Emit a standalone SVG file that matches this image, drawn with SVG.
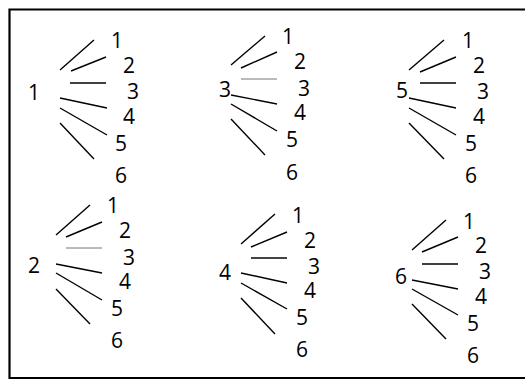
<svg xmlns="http://www.w3.org/2000/svg" width="525" height="380" viewBox="0 0 525 380">
<style>
text{font-family:"Open Sans","Liberation Sans",sans-serif;font-size:21px;fill:#000;text-anchor:middle}
.c line{stroke:#000;stroke-width:1.4;stroke-linecap:butt}
.c line.thin{stroke:#777;stroke-width:1}
.c line.gr{stroke:#444;stroke-width:1.8}
</style>
<rect width="525" height="380" fill="#fff"/>
<path d="M526 9.5H9.5V378H526" fill="none" stroke="#000" stroke-width="2.2"/>
<g id="node-1"><text x="34" y="100">1</text><text x="117" y="48">1</text><text x="129" y="73">2</text><text x="133" y="99">3</text><text x="129" y="124">4</text><text x="121" y="151">5</text><text x="121" y="183">6</text></g>
<g id="node-3"><text x="225" y="97">3</text><text x="288" y="44">1</text><text x="300" y="69">2</text><text x="304" y="96">3</text><text x="300" y="120">4</text><text x="292" y="147">5</text><text x="292" y="180">6</text></g>
<g id="node-5"><text x="402" y="98">5</text><text x="468" y="48">1</text><text x="479" y="73">2</text><text x="483" y="99">3</text><text x="479" y="124">4</text><text x="471" y="151">5</text><text x="471" y="183">6</text></g>
<g id="node-2"><text x="34" y="273">2</text><text x="113" y="213">1</text><text x="125" y="238">2</text><text x="129" y="265">3</text><text x="125" y="289">4</text><text x="117" y="316">5</text><text x="117" y="348">6</text></g>
<g id="node-4"><text x="225" y="280">4</text><text x="298" y="223">1</text><text x="310" y="248">2</text><text x="314" y="274">3</text><text x="310" y="298">4</text><text x="302" y="325">5</text><text x="302" y="357">6</text></g>
<g id="node-6"><text x="401" y="284">6</text><text x="469" y="229">1</text><text x="481" y="253">2</text><text x="485" y="279">3</text><text x="481" y="304">4</text><text x="473" y="331">5</text><text x="473" y="363">6</text></g>
<g id="connectors" class="c">
<line x1="60" y1="70" x2="94" y2="40"/><line x1="71" y1="71" x2="106" y2="57"/><line x1="70" y1="83" x2="106" y2="83"/><line x1="60" y1="98" x2="107" y2="108"/><line x1="60" y1="108" x2="107" y2="135"/><line x1="60" y1="123" x2="94" y2="159"/>
<line x1="231" y1="65" x2="265" y2="36"/><line x1="241" y1="68" x2="277" y2="52"/><line class="thin" x1="241" y1="79" x2="277" y2="79"/><line x1="231" y1="95" x2="277" y2="104"/><line x1="231" y1="104" x2="277" y2="131"/><line x1="231" y1="119" x2="265" y2="155"/>
<line x1="409" y1="70" x2="444" y2="40"/><line x1="420" y1="72" x2="456" y2="57"/><line x1="420" y1="83" x2="456" y2="83"/><line x1="409" y1="98" x2="456" y2="108"/><line x1="409" y1="108" x2="456" y2="135"/><line x1="409" y1="123" x2="444" y2="159"/>
<line x1="56" y1="235" x2="90" y2="205"/><line x1="66" y1="237" x2="102" y2="222"/><line class="thin" x1="66" y1="248" x2="102" y2="248"/><line x1="56" y1="264" x2="102" y2="273"/><line x1="56" y1="273" x2="102" y2="300"/><line x1="56" y1="289" x2="90" y2="324"/>
<line x1="241" y1="244" x2="275" y2="214"/><line x1="251" y1="247" x2="287" y2="232"/><line class="gr" x1="251" y1="258" x2="287" y2="258"/><line x1="241" y1="273" x2="287" y2="283"/><line x1="241" y1="283" x2="287" y2="309"/><line x1="241" y1="298" x2="275" y2="334"/>
<line x1="412" y1="250" x2="446" y2="220"/><line x1="422" y1="252" x2="458" y2="237"/><line x1="422" y1="264" x2="458" y2="264"/><line x1="412" y1="280" x2="458" y2="289"/><line x1="412" y1="289" x2="458" y2="315"/><line x1="412" y1="304" x2="446" y2="339"/>
</g>
</svg>
